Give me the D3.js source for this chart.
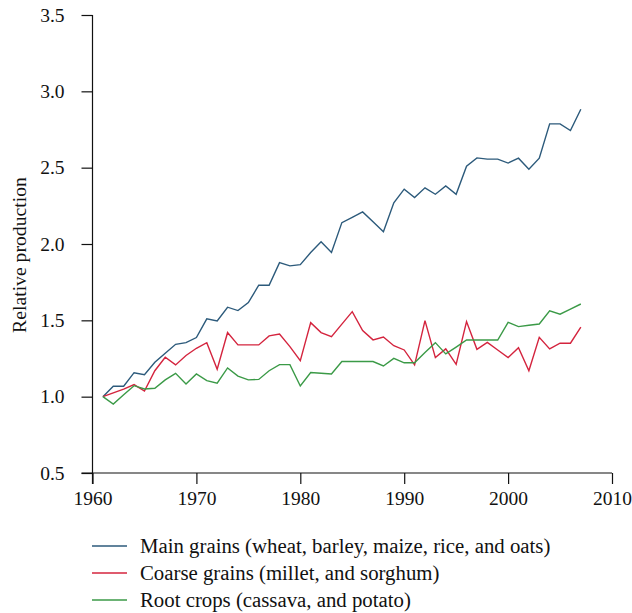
<!DOCTYPE html>
<html>
<head>
<meta charset="utf-8">
<script src="https://cdn.jsdelivr.net/npm/d3@7"></script>
<style>
  html, body { margin: 0; padding: 0; background: #fff; }
  svg { display: block; }
  text { font-family: "Liberation Serif", "DejaVu Serif", serif; fill: #111; }
</style>
</head>
<body>
<svg id="chart" width="632" height="613"></svg>
<script>
const years = d3.range(1961, 2008);

const mainGrains = [1.00, 1.068, 1.068, 1.157, 1.144, 1.225, 1.285, 1.343, 1.354, 1.387,
  1.51, 1.496, 1.586, 1.564, 1.616, 1.73, 1.73, 1.878, 1.857, 1.865,
  1.944, 2.014, 1.944, 2.14, 2.175, 2.21, 2.145, 2.08, 2.27, 2.359,
  2.304, 2.368, 2.326, 2.38, 2.326, 2.51, 2.564, 2.556, 2.556, 2.53,
  2.562, 2.49, 2.562, 2.787, 2.787, 2.743, 2.883];

const coarseGrains = [1.00, 1.025, 1.05, 1.079, 1.037, 1.17, 1.258, 1.208, 1.27, 1.317,
  1.354, 1.18, 1.42, 1.339, 1.339, 1.339, 1.398, 1.41, 1.328, 1.236,
  1.485, 1.42, 1.393, 1.475, 1.557, 1.433, 1.372, 1.391, 1.334, 1.306,
  1.208, 1.498, 1.256, 1.313, 1.212, 1.492, 1.31, 1.356, 1.306, 1.256,
  1.321, 1.17, 1.389, 1.313, 1.35, 1.35, 1.455];

const rootCrops = [1.00, 0.952, 1.012, 1.072, 1.05, 1.055, 1.11, 1.153, 1.083, 1.149,
  1.105, 1.088, 1.188, 1.135, 1.11, 1.113, 1.17, 1.21, 1.21, 1.07,
  1.158, 1.153, 1.149, 1.23, 1.23, 1.23, 1.23, 1.201, 1.251, 1.222,
  1.222, 1.29, 1.354, 1.28, 1.325, 1.371, 1.371, 1.371, 1.371, 1.487,
  1.459, 1.468, 1.476, 1.562, 1.54, 1.574, 1.607];

const seriesNames = [
  "Main grains (wheat, barley, maize, rice, and oats)",
  "Coarse grains (millet, and sorghum)",
  "Root crops (cassava, and potato)"
];
const seriesColors = ["#2c5a7b", "#d4243e", "#3b9a47"];
const xTicks = [1960, 1970, 1980, 1990, 2000, 2010];
const yTicks = [0.5, 1.0, 1.5, 2.0, 2.5, 3.0, 3.5];

const series = [mainGrains, coarseGrains, rootCrops];

const svg = d3.select("#chart");
const x = d3.scaleLinear().domain([1960, 2010]).range([92.5, 612]);
const y = d3.scaleLinear().domain([0.5, 3.5]).range([473, 15]);

// Y axis
const gy = svg.append("g").attr("transform", "translate(92.5,0)")
  .call(d3.axisLeft(y).tickValues(yTicks).tickFormat(d3.format(".1f")).tickSize(11).tickPadding(17));
gy.select(".domain").remove();
gy.selectAll(".tick line").attr("stroke", "#111").attr("stroke-width", 1.2);
gy.selectAll(".tick text").style("font-size", "19.5px").attr("fill", "#111")
  .style("font-family", "'Liberation Serif', serif");
svg.append("line").attr("x1", 92.5).attr("x2", 92.5).attr("y1", y(3.5)).attr("y2", y(0.5) + 11)
  .attr("stroke", "#111").attr("stroke-width", 1.2);

// X axis
const gx = svg.append("g").attr("transform", `translate(0,${y(0.5)})`)
  .call(d3.axisBottom(x).tickValues(xTicks).tickFormat(d3.format("d")).tickSize(11).tickPadding(7));
gx.select(".domain").remove();
gx.selectAll(".tick line").attr("stroke", "#111").attr("stroke-width", 1.2);
gx.selectAll(".tick text").style("font-size", "19.5px").attr("fill", "#111")
  .style("font-family", "'Liberation Serif', serif");
svg.append("line").attr("x1", 92.5 - 11).attr("x2", x(2010)).attr("y1", y(0.5)).attr("y2", y(0.5))
  .attr("stroke", "#111").attr("stroke-width", 1.2);

// Y title
svg.append("text")
  .attr("transform", `translate(26,${(y(0.5) + y(3.5)) / 2 + 11}) rotate(-90)`)
  .attr("text-anchor", "middle")
  .style("font-size", "19.7px")
  .text("Relative production");

// Lines
const line = d3.line().x((d, i) => x(years[i])).y(d => y(d));
series.forEach((s, k) => {
  svg.append("path").datum(s)
    .attr("d", line)
    .attr("fill", "none")
    .attr("stroke", seriesColors[k])
    .attr("stroke-width", 1.4)
    .attr("stroke-linejoin", "miter");
});

// Legend
const legend = svg.append("g");
seriesNames.forEach((name, k) => {
  const yy = 546 + k * 27;
  legend.append("line").attr("x1", 92).attr("x2", 127).attr("y1", yy).attr("y2", yy)
    .attr("stroke", seriesColors[k]).attr("stroke-width", 1.3);
  legend.append("text").attr("x", 140).attr("y", yy).attr("dy", "0.35em")
    .style("font-size", "20.8px").text(name);
});
</script>
</body>
</html>
